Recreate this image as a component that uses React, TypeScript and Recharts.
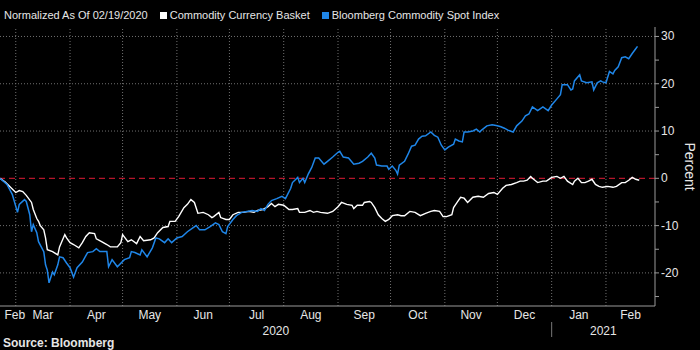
import { LineChart, Line, XAxis, YAxis, CartesianGrid, ReferenceLine } from "recharts";

// x values are days since 2020-02-19 (the normalization date)
const blueDays = [
  2, 6, 9, 12, 13, 16, 17, 19, 20, 21, 23, 24, 27, 28, 29, 30, 32, 33, 35, 36,
  38, 40, 42, 44, 46, 49, 52, 55, 57, 59, 63, 64, 66, 69, 73, 76, 77, 79, 82, 83,
  86, 89, 91, 93, 96, 98, 100, 103, 106, 109, 114, 116, 119, 122, 125, 127, 129, 131, 132, 135,
  137, 140, 143, 146, 149, 151, 153, 155, 157, 160, 163, 165, 168, 169, 172, 173, 175, 176, 178, 180,
  182, 184, 187, 189, 192, 195, 196, 198, 201, 204, 207, 209, 212, 214, 216, 217, 220, 223, 224, 226,
  228, 229, 230, 233, 235, 237, 239, 241, 243, 245, 248, 250, 252, 254, 256, 258, 261, 262, 264, 266,
  267, 269, 272, 274, 276, 277, 280, 283, 286, 288, 290, 292, 295, 297, 300, 302, 304, 306, 309, 312,
  315, 317, 320, 322, 323, 326, 328, 329, 330, 333, 334, 337, 340, 341, 343, 345, 346, 348, 350, 352,
  353, 355, 357, 359, 361, 363, 365, 366,
];
const blueValues = [
  0, -1.3, -3.4, -7.2, -5.5, -4.5, -4.9, -7.7, -11.3, -9.8, -11.5, -13.4, -15.5, -18.3, -19.4, -22.1, -19.8, -20.4, -18.3, -16.6,
  -16.8, -17.9, -18.9, -20.9, -18.9, -17.7, -15.7, -15.5, -14.9, -15.5, -15.5, -18.7, -17.2, -18.7, -17.2, -16.8, -15.5, -15.7, -16.2, -15.1,
  -16.6, -14.7, -12.6, -12.8, -13.6, -12.8, -13.6, -12.6, -12.3, -11.3, -10.0, -10.9, -10.9, -10.2, -9.4, -9.8, -11.3, -11.7, -10.2, -8.7,
  -7.9, -7.2, -7.0, -6.8, -7.0, -6.4, -6.8, -5.5, -4.7, -4.3, -3.8, -4.3, -2.1, -0.9, 0.2, -0.9, 0, -0.9, 0.9, 2.3,
  4.3, 4.3, 3.0, 3.6, 4.5, 5.5, 5.7, 4.5, 4.3, 3.0, 3.2, 3.6, 4.5, 5.3, 4.3, 2.8, 2.6, 2.6, 1.9, 2.6,
  1.7, 0.9, 2.8, 3.6, 5.1, 6.8, 7.0, 8.3, 8.9, 9.0, 9.8, 9.1, 8.7, 7.0, 6.0, 6.6, 7.2, 8.3, 7.9, 7.7,
  9.8, 9.8, 10.0, 10.4, 9.8, 10.2, 11.1, 11.3, 11.1, 10.9, 10.6, 10.2, 9.8, 11.1, 12.1, 13.2, 13.6, 15.1, 14.3, 15.1,
  14.3, 15.5, 16.8, 17.7, 19.8, 19.8, 18.7, 18.9, 20.6, 21.9, 20.6, 20.2, 20.4, 18.7, 20.2, 20.6, 20.4, 20.2, 22.6, 22.1,
  22.8, 23.6, 25.5, 25.7, 25.3, 26.4, 27.4, 27.9,
];

const whiteDays = [
  2, 5, 8, 11, 13, 15, 17, 20, 21, 23, 24, 25, 27, 28, 29, 32, 35, 36, 39, 40,
  42, 44, 47, 49, 51, 53, 56, 57, 60, 63, 65, 69, 71, 72, 75, 77, 80, 82, 84, 88,
  90, 92, 95, 98, 99, 102, 104, 107, 109, 111, 113, 115, 118, 121, 123, 124, 127, 128, 131, 133,
  135, 138, 141, 144, 147, 149, 152, 155, 157, 159, 161, 164, 167, 169, 172, 173, 176, 179, 181, 183,
  185, 189, 192, 195, 197, 200, 203, 204, 206, 209, 210, 213, 214, 216, 218, 220, 222, 224, 226, 229,
  231, 233, 236, 239, 242, 245, 248, 250, 253, 255, 257, 260, 261, 263, 265, 267, 269, 272, 275, 278,
  281, 284, 286, 289, 291, 294, 297, 299, 301, 303, 305, 306, 309, 312, 314, 317, 320, 322, 324, 326,
  329, 330, 332, 334, 336, 338, 340, 342, 344, 346, 349, 352, 354, 357, 359, 361, 363, 365, 367,
];
const whiteValues = [
  0, -0.8, -1.9, -3.0, -2.6, -2.8, -3.6, -5.1, -6.6, -8.5, -9.1, -10.0, -10.9, -12.6, -15.1, -15.5, -16.2, -14.5, -11.9, -12.6,
  -13.6, -14.0, -14.7, -13.6, -12.3, -11.5, -11.7, -12.8, -13.4, -14.0, -14.5, -14.5, -13.6, -11.9, -13.4, -13.0, -13.8, -12.3, -13.2, -13.0,
  -12.6, -11.5, -10.4, -10.2, -9.1, -9.1, -8.1, -6.2, -5.5, -4.5, -5.1, -7.4, -7.2, -7.7, -8.3, -8.1, -7.2, -8.3, -8.7, -8.7,
  -7.7, -7.2, -7.2, -7.0, -7.2, -6.8, -6.6, -6.0, -5.3, -6.0, -5.5, -5.7, -6.6, -6.6, -6.4, -7.2, -7.2, -6.8, -7.2, -7.0,
  -7.2, -7.4, -7.0, -6.0, -5.1, -5.5, -5.7, -6.4, -5.7, -5.7, -5.1, -4.9, -5.1, -6.2, -7.7, -8.5, -9.1, -8.7, -7.9, -7.7,
  -7.9, -7.9, -7.0, -7.2, -7.9, -7.4, -7.0, -6.8, -7.0, -8.1, -8.1, -7.7, -6.2, -5.1, -4.0, -4.2, -5.1, -4.0, -3.8, -4.0,
  -3.2, -3.0, -3.4, -2.1, -1.5, -1.3, -0.9, -0.6, -0.6, -0.4, 0.4, 0, -0.9, -0.6, -0.6, 0.2, 0.4, 0, 0.4, -0.6,
  -1.3, -0.6, 0, -0.9, -0.9, -0.6, -0.2, -1.3, -1.7, -1.9, -1.7, -1.9, -1.7, -0.9, -0.9, -0.4, 0.2, -0.2, -0.4,
];

const monthStarts = [11, 42, 72, 103, 133, 164, 195, 225, 256, 286, 317, 348];
const monthLabelDays = [10.5, 26.5, 57, 87.5, 118, 148.5, 179.5, 210, 240.5, 271, 301.5, 332.5, 362];
const monthLabels = ["Feb", "Mar", "Apr", "May", "Jun", "Jul", "Aug", "Sep", "Oct", "Nov", "Dec", "Jan", "Feb"];
const yearTicks = [159.5, 317, 346.5];
const yearLabels = ["2020", "", "2021"];
const yTicks = [-25, -20, -15, -10, -5, 0, 5, 10, 15, 20, 25, 30];
const gridValues = [-20, -10, 10, 20, 30];

const blueData = blueDays.map((d, i) => ({ day: d, value: blueValues[i] }));
const whiteData = whiteDays.map((d, i) => ({ day: d, value: whiteValues[i] }));

const DOMAIN: [number, number] = [2, 376];
const AXIS = "#9a9a9a";
const TEXT = "#e6e6e6";
const BLUE = "#1f86e8";
const GRID = "#707070";
const FONT = "'Liberation Sans', Arial, sans-serif";

function YTick({ x, y, payload }: any) {
  if (payload.value % 10 !== 0) return null;
  return (
    <text x={x} y={y + 4} fill={TEXT} fontSize={12} fontFamily={FONT} textAnchor="start">
      {payload.value}
    </text>
  );
}

function YearTick({ x, y, index }: any) {
  const label = yearLabels[index];
  if (!label) {
    return <line x1={x} x2={x} y1={y - 1} y2={y + 14} stroke="#777" />;
  }
  return (
    <text x={x} y={y + 12} fill={TEXT} fontSize={12} fontFamily={FONT} textAnchor="middle">
      {label}
    </text>
  );
}

function PercentLabel({ viewBox }: any) {
  const cx = viewBox.x + 35;
  const cy = viewBox.y + viewBox.height / 2;
  return (
    <text
      x={cx}
      y={cy}
      transform={`rotate(90, ${cx}, ${cy})`}
      fill={TEXT}
      fontSize={14}
      fontFamily={FONT}
      textAnchor="middle"
      dominantBaseline="central"
    >
      Percent
    </text>
  );
}

export default function App() {
  return (
    <div
      style={{
        position: "absolute",
        left: 0,
        top: 0,
        width: 700,
        height: 350,
        background: "#000",
        fontFamily: FONT,
        overflow: "hidden",
      }}
    >
      <LineChart width={700} height={350} margin={{ top: 27, right: 0, bottom: 0, left: 0 }}>
        <CartesianGrid xAxisId="grid" vertical={false} horizontal={false} />
        <XAxis
          xAxisId="grid"
          dataKey="day"
          type="number"
          domain={DOMAIN}
          allowDataOverflow
          ticks={monthStarts}
          interval={0}
          tick={false}
          tickLine={{ stroke: AXIS }}
          tickSize={4}
          axisLine={{ stroke: AXIS }}
          height={4}
        />
        <XAxis
          xAxisId="months"
          dataKey="day"
          type="number"
          domain={DOMAIN}
          allowDataOverflow
          ticks={monthLabelDays}
          interval={0}
          tickFormatter={(_v: number, i: number) => monthLabels[i]}
          tick={{ fill: TEXT, fontSize: 12, fontFamily: FONT }}
          tickLine={false}
          axisLine={false}
          tickSize={0}
          tickMargin={0}
          height={13}
        />
        <XAxis
          xAxisId="years"
          dataKey="day"
          type="number"
          domain={DOMAIN}
          allowDataOverflow
          ticks={yearTicks}
          interval={0}
          tick={<YearTick />}
          tickLine={false}
          axisLine={false}
          tickSize={0}
          tickMargin={0}
          height={27}
        />
        <YAxis
          orientation="right"
          domain={[-27, 32]}
          allowDataOverflow
          ticks={yTicks}
          interval={0}
          tick={<YTick />}
          tickLine={{ stroke: AXIS }}
          tickSize={4}
          axisLine={{ stroke: AXIS }}
          width={45}
          label={<PercentLabel />}
        />
        {gridValues.map((v) => (
          <ReferenceLine key={"h" + v} xAxisId="grid" y={v} stroke={GRID} strokeDasharray="1 2" />
        ))}
        {monthStarts.map((d) => (
          <ReferenceLine key={"v" + d} xAxisId="grid" x={d} stroke={GRID} strokeDasharray="1 2" />
        ))}
        <ReferenceLine xAxisId="grid" y={0} stroke="#b5162b" strokeWidth={1.3} strokeDasharray="6 4" />
        <Line
          xAxisId="grid"
          data={whiteData}
          dataKey="value"
          stroke="#ffffff"
          strokeWidth={1.4}
          dot={false}
          activeDot={false}
          isAnimationActive={false}
        />
        <Line
          xAxisId="grid"
          data={blueData}
          dataKey="value"
          stroke={BLUE}
          strokeWidth={1.5}
          dot={false}
          activeDot={false}
          isAnimationActive={false}
        />
      </LineChart>

      <div
        style={{
          position: "absolute",
          top: 8,
          left: 4,
          fontSize: 11,
          color: TEXT,
          display: "flex",
          alignItems: "center",
          whiteSpace: "nowrap",
          lineHeight: "14px",
        }}
      >
        <span>Normalized As Of 02/19/2020</span>
        <span style={{ display: "inline-block", width: 7, height: 7, background: "#fff", marginLeft: 12, marginRight: 3 }} />
        <span>Commodity Currency Basket</span>
        <span style={{ display: "inline-block", width: 7, height: 7, background: BLUE, marginLeft: 12, marginRight: 3 }} />
        <span>Bloomberg Commodity Spot Index</span>
      </div>

      <div
        style={{
          position: "absolute",
          left: 3,
          top: 336,
          fontSize: 12,
          fontWeight: "bold",
          color: TEXT,
          lineHeight: "14px",
        }}
      >
        Source: Bloomberg
      </div>
    </div>
  );
}
